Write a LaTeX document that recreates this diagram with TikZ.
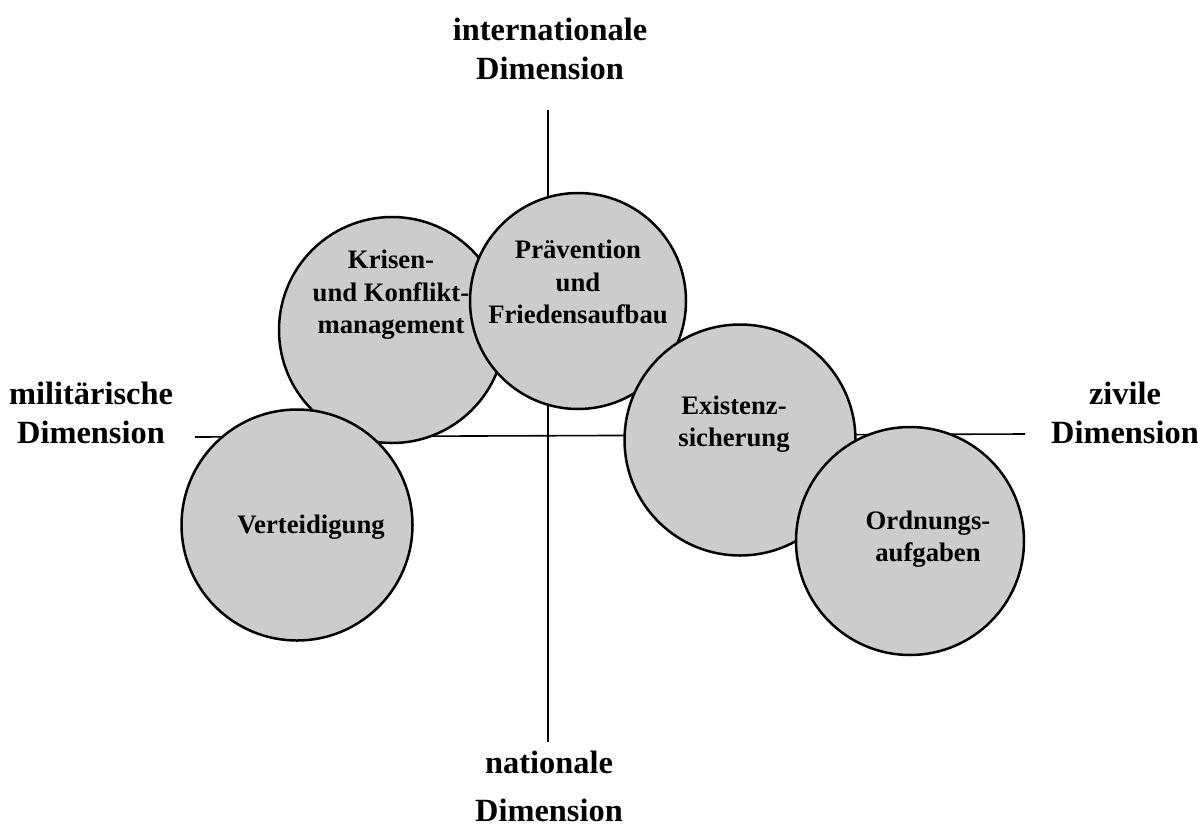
\documentclass[tikz,border=0pt]{standalone}
\usepackage{fontspec}
\setmainfont{Liberation Serif}
\begin{document}
\begin{tikzpicture}[x=1pt,y=-1pt,
  bub/.style={circle,draw=black,line width=2.5pt,fill=black!20,inner sep=0pt},
  axl/.style={font=\bfseries\fontsize{32.4}{39}\selectfont,align=center,inner sep=0pt},
  bl/.style={font=\bfseries\fontsize{26.7}{32.5}\selectfont,align=center,inner sep=0pt},
  ax/.style={line width=1.6pt}]
\useasboundingbox (0,0) rectangle (1198,827);
% axes
\coordinate (vt) at (548,110);
\coordinate (vb) at (548,742);
\coordinate (hl) at (195,437);
\coordinate (hr) at (1025,434);
\draw[ax] (vt) -- (vb);
\draw[ax] (hl) -- (hr);
% circles
\node[bub,minimum size=226pt] (kri) at (392,330) {};
\node[bub,minimum size=216pt] (pra) at (578,301) {};
\node[bub,minimum size=231pt] (ver) at (297,525) {};
\node[bub,minimum size=231pt] (exi) at (740,440) {};
\node[bub,minimum size=228pt] (ord) at (910,541) {};
% circle labels
\node[bl] (krit) at (391,295) {Krisen-\\und Konflikt-\\management};
\node[bl] (prat) at (578,282) {Pr\"avention\\und\\Friedensaufbau};
\node[bl] (exit) at (734,424) {Existenz-\\sicherung};
\node[bl] (ordt) at (928,539) {Ordnungs-\\aufgaben};
\node[bl] (vert) at (311,527) {Verteidigung};
% axis labels
\node[axl] (top) at (550,49) {internationale\\Dimension};
\node[axl,anchor=base] (bot1) at (549,773) {nationale};
\node[axl,anchor=base] (bot2) at (549,821) {Dimension};
\node[axl] (left) at (91,413) {milit\"arische\\Dimension};
\node[axl] (right) at (1125,413) {zivile\\Dimension};
\end{tikzpicture}
\end{document}
